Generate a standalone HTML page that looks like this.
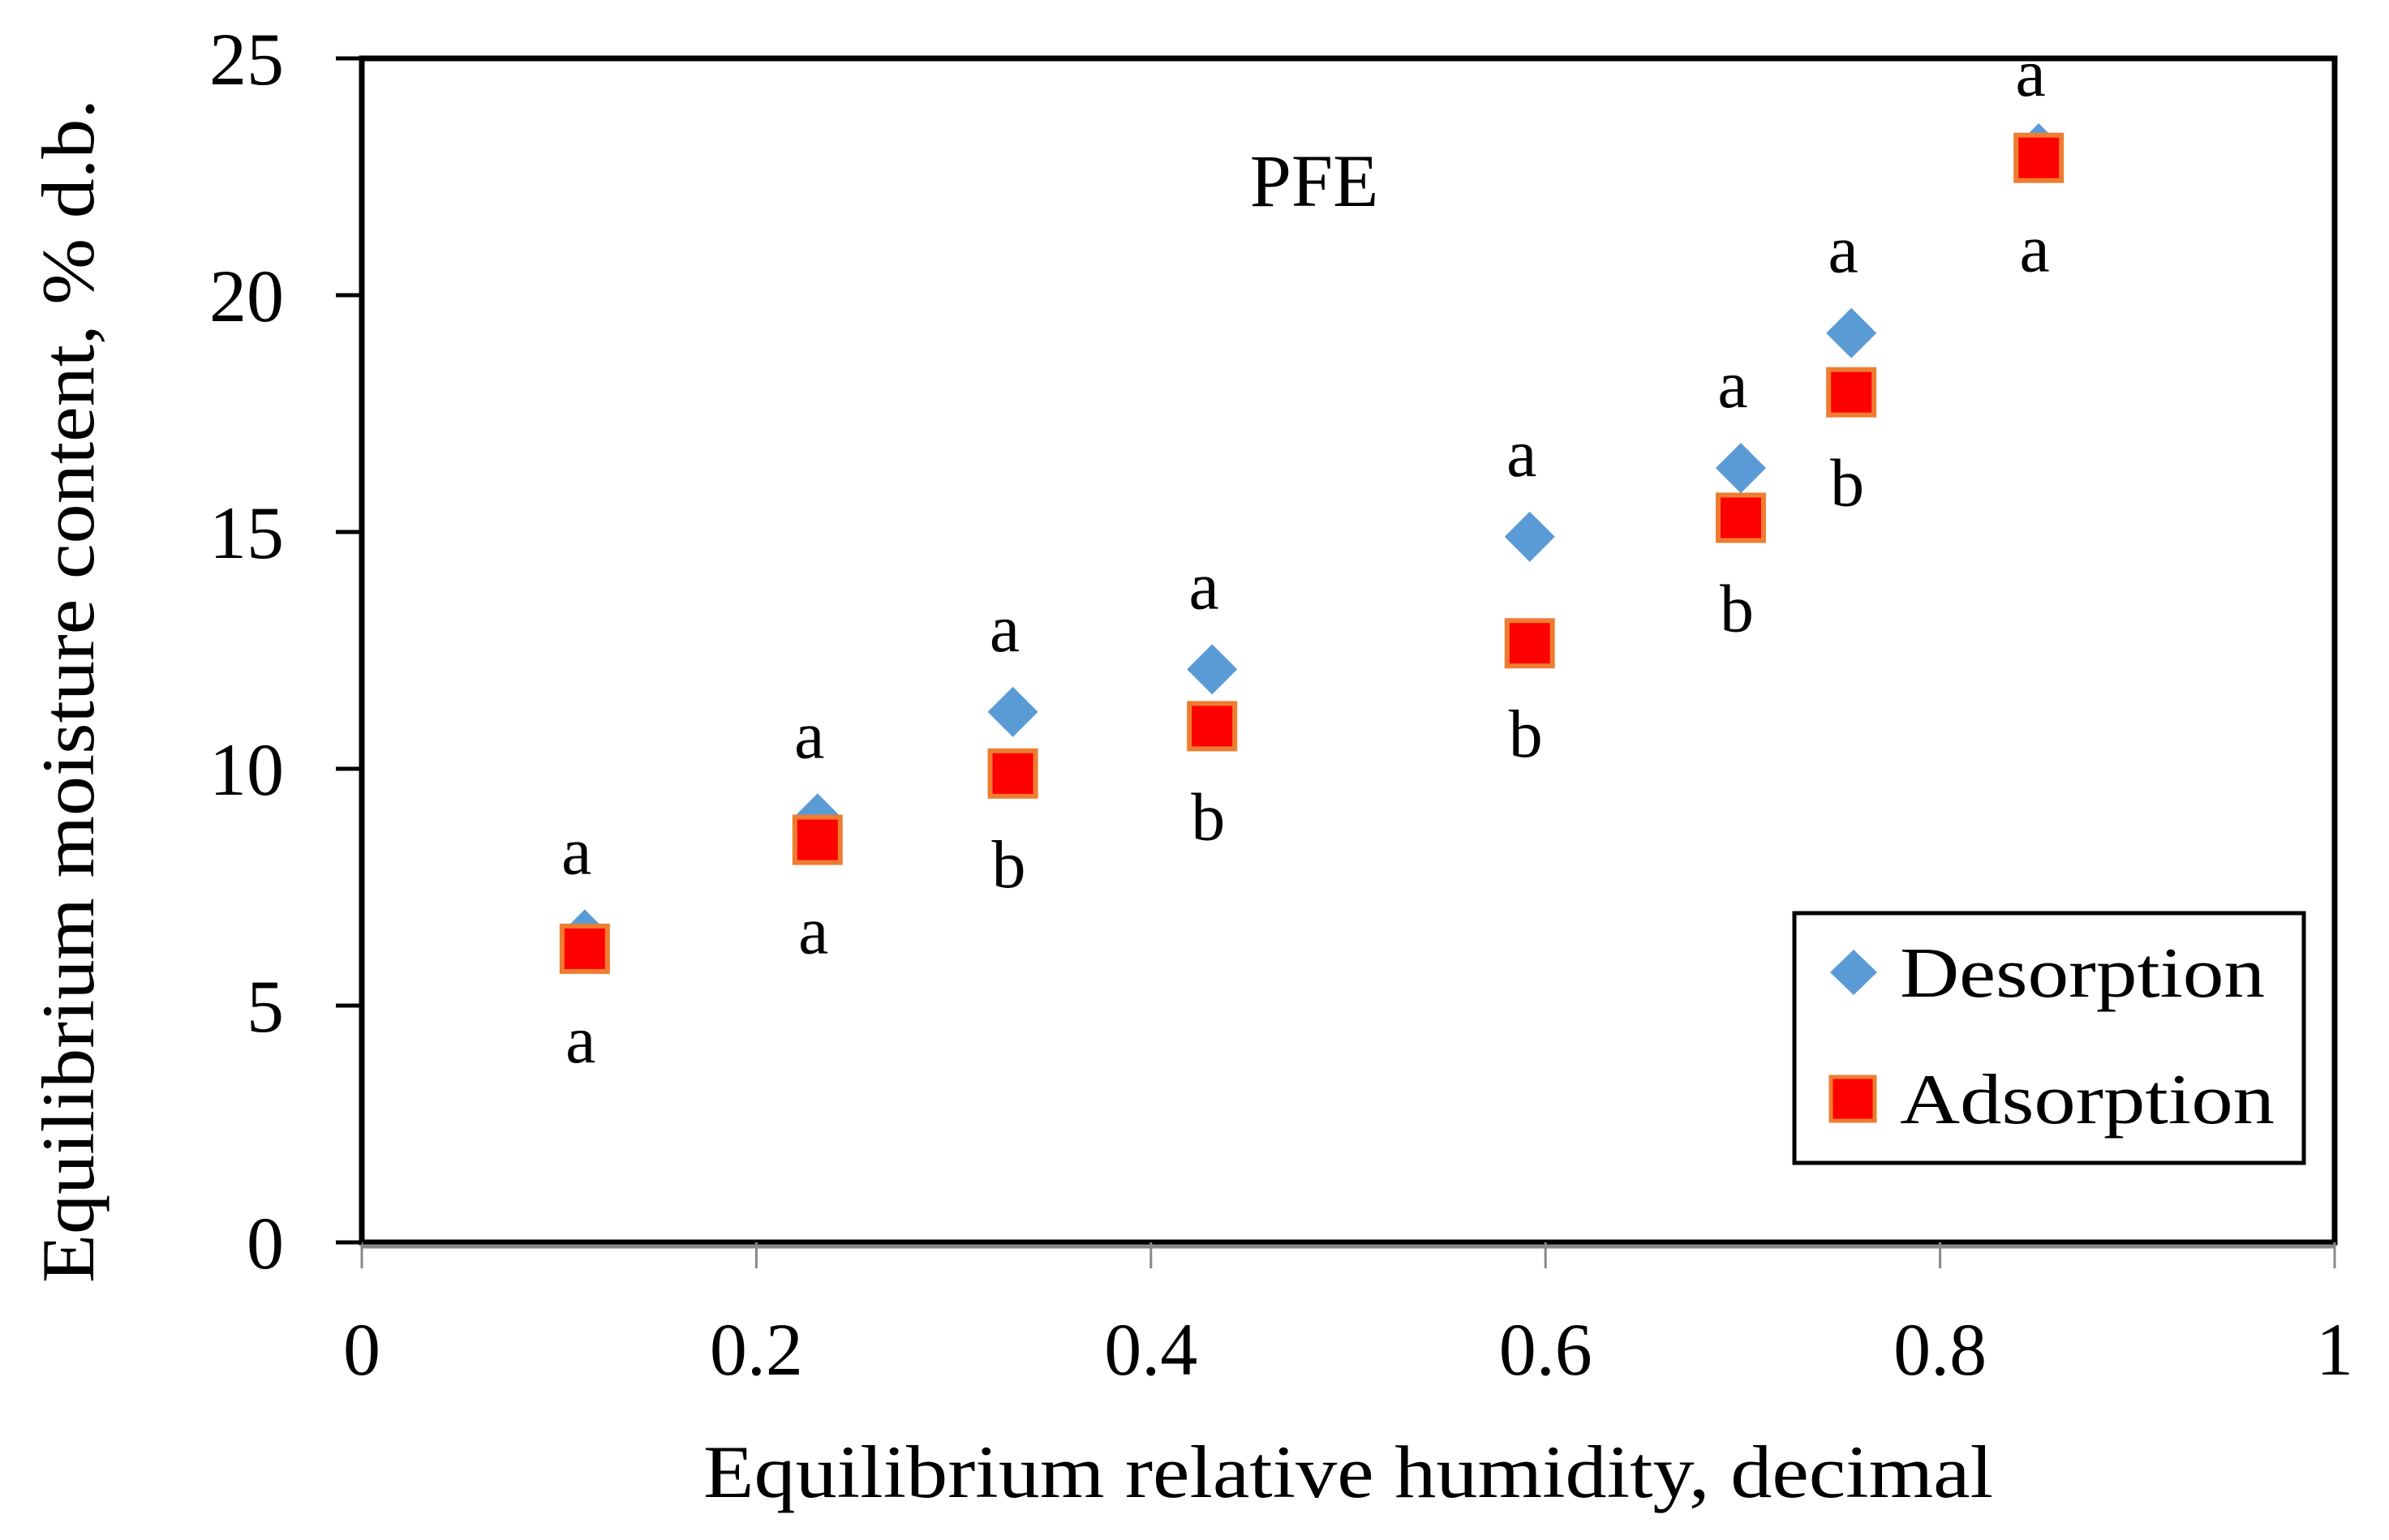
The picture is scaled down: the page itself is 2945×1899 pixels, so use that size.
<!DOCTYPE html>
<html><head><meta charset="utf-8"><style>
html,body{margin:0;padding:0;background:#fff;}
svg{display:block;font-family:"Liberation Serif",serif;}
</style></head><body>
<svg id="chart" width="2945" height="1899" viewBox="0 0 2945 1899" xmlns="http://www.w3.org/2000/svg">
<rect width="2945" height="1899" fill="#fff"/>
<g id="axes"></g>
<g id="marks"></g>
<text x="1620" y="254" font-size="92" text-anchor="middle">PFE</text>
<text x="1662" y="1846" font-size="92" text-anchor="middle" textLength="1590" lengthAdjust="spacingAndGlyphs">Equilibrium relative humidity, decimal</text>
<text transform="translate(115,852) rotate(-90)" font-size="92" text-anchor="middle" textLength="1460" lengthAdjust="spacingAndGlyphs">Equilibrium moisture content, % d.b.</text>
<g>
<rect x="2212" y="1126" width="628" height="308" fill="#fff" stroke="#000" stroke-width="5"/>
<polygon points="2285,1171 2314,1199 2285,1227 2256,1199" fill="#5b9bd5"/>
<text x="2342" y="1229" font-size="88" textLength="450" lengthAdjust="spacingAndGlyphs">Desorption</text>
<rect x="2257" y="1328" width="54" height="54" fill="#ff0000" stroke="#ed7d31" stroke-width="5"/>
<text x="2342" y="1385" font-size="88" textLength="462" lengthAdjust="spacingAndGlyphs">Adsorption</text>
</g>
</svg>
<script>
const xTicks = [0, 0.2, 0.4, 0.6, 0.8, 1];
const xTickLabels = ["0", "0.2", "0.4", "0.6", "0.8", "1"];
const yTicks = [0, 5, 10, 15, 20, 25];
const yTickLabels = ["0", "5", "10", "15", "20", "25"];
const rh = [0.113, 0.231, 0.330, 0.431, 0.592, 0.699, 0.755, 0.850];
const desorption = [6.5, 8.95, 11.2, 12.1, 14.9, 16.35, 19.2, 23.1];
const adsorption = [6.2, 8.5, 9.9, 10.9, 12.65, 15.3, 17.95, 22.9];
const desLetters = ["a", "a", "a", "a", "a", "a", "a", "a"];
const adsLetters = ["a", "a", "b", "b", "b", "b", "b", "a"];

const L = 446, R = 2878, T = 72, B = 1532;
const sx = v => L + v * (R - L);
const sy = v => B - v / 25 * (B - T);
const NS = "http://www.w3.org/2000/svg";
function mk(tag, attrs, parent) {
  const e = document.createElementNS(NS, tag);
  for (const k in attrs) e.setAttribute(k, attrs[k]);
  parent.appendChild(e);
  return e;
}
const axes = document.getElementById('axes');
const marks = document.getElementById('marks');

let el = mk('rect', {x: L, y: T, width: R - L, height: B - T, fill: 'none', stroke: '#000', 'stroke-width': 7}, axes);


el = mk('line', {x1: L, x2: R, y1: B + 5, y2: B + 5, stroke: '#888', 'stroke-width': 5}, axes);



xTicks.forEach((t, i) => {
  const x = sx(t);
  let tk = mk('line', {x1: x, x2: x, y1: B, y2: B + 32, stroke: '#888', 'stroke-width': 3}, axes);
  
  
  let lb = mk('text', {x: x, y: 1695, 'font-size': 92, 'text-anchor': 'middle'}, axes);
  lb.textContent = xTickLabels[i];
  
  
});
yTicks.forEach((t, i) => {
  const y = sy(t);
  let tk = mk('line', {x1: L - 32, x2: L, y1: y, y2: y, stroke: '#000', 'stroke-width': 5}, axes);
  
  
  let lb = mk('text', {x: 350, y: y + 32, 'font-size': 92, 'text-anchor': 'end'}, axes);
  lb.textContent = yTickLabels[i];
  
  
});

rh.forEach((h, i) => {
  const x = sx(h);
  const yd = sy(desorption[i]);
  let d = mk('polygon', {points: `${x},${yd-31} ${x+31},${yd} ${x},${yd+31} ${x-31},${yd}`, fill: '#5b9bd5'}, marks);
  
  
  const ya = sy(adsorption[i]);
  let s = mk('rect', {x: x - 28, y: ya - 28, width: 56, height: 56, fill: '#ff0000', stroke: '#ed7d31', 'stroke-width': 6}, marks);
  
  
  let t1 = mk('text', {x: x - 10, y: Math.max(yd - 75, 118), 'font-size': 84, 'text-anchor': 'middle'}, marks);
  t1.textContent = desLetters[i];
  
  
  let t2 = mk('text', {x: x - 5, y: ya + 140, 'font-size': 84, 'text-anchor': 'middle'}, marks);
  t2.textContent = adsLetters[i];
  
  
});
</script>
</body></html>
